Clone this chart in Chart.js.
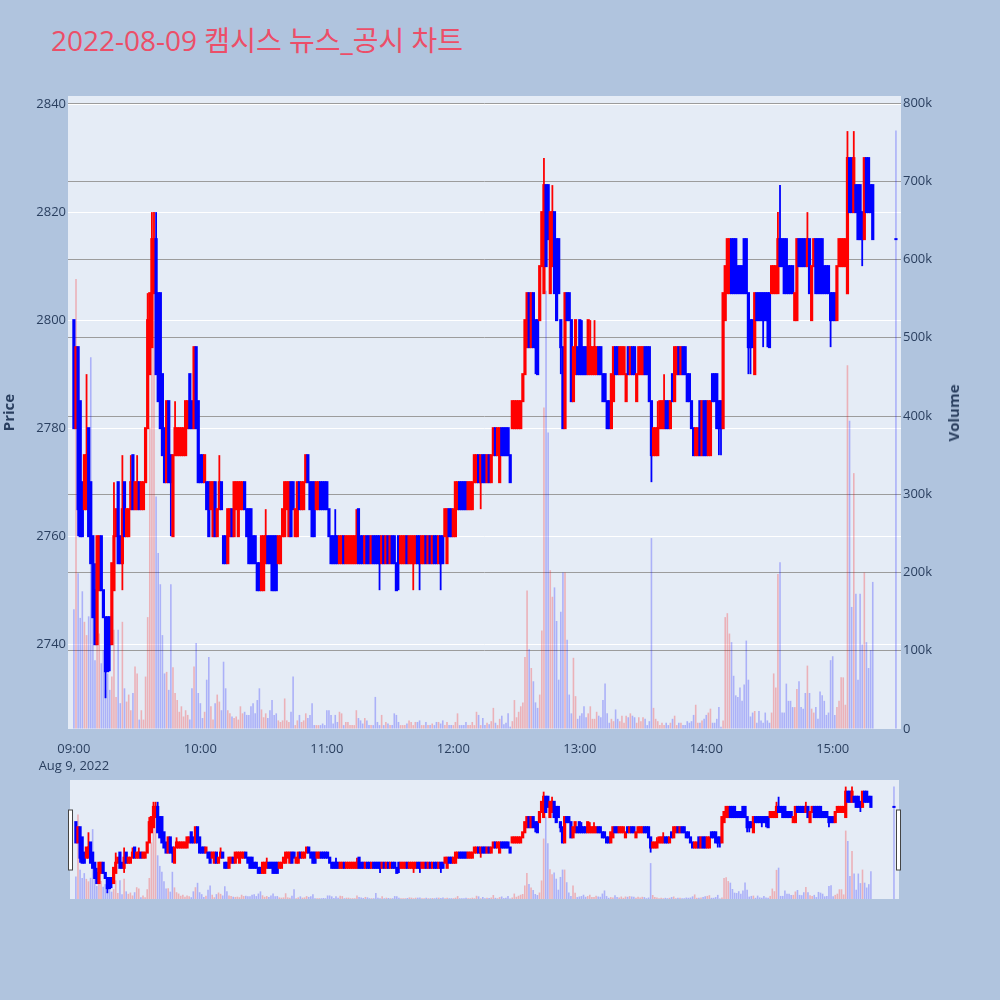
<!DOCTYPE html>
<html><head><meta charset="utf-8">
<script src="https://cdn.jsdelivr.net/npm/chart.js@4.4.1/dist/chart.umd.min.js"></script>
<style>
html,body{margin:0;padding:0;background:#B0C4DE;width:1000px;height:1000px;overflow:hidden;}
#title{position:absolute;left:51px;top:25px;line-height:30px;font-family:'Open Sans','Noto Sans CJK KR',sans-serif;font-size:28px;color:#EC4E68;white-space:nowrap;}
#main{position:absolute;left:0;top:0;}
#slider{position:absolute;left:0;top:770px;}
#vtitle{position:absolute;left:953px;top:413px;transform:translate(-50%,-50%) rotate(-90deg);font-family:'Open Sans',sans-serif;font-weight:bold;font-size:15px;color:#2a3f5f;white-space:nowrap;}
</style></head>
<body>
<div id="title">2022-08-09 캠시스 뉴스_공시 차트</div>
<canvas id="main" width="1000" height="775"></canvas>
<canvas id="slider" width="1000" height="140"></canvas>
<div id="vtitle">Volume</div>
<script>
// ---- data (minute candles from 09:00; the last one is the 15:30 closing auction) ----
const openP = [
2800,2780,2795,2785,2770,2765,2765,2780,2770,2760,
2750,2740,2750,2760,2750,2745,2745,2745,2740,2750,
2760,2770,2760,2755,2770,2760,2760,2765,2775,2765,
2765,2770,2765,2765,2770,2780,2790,2795,2805,2815,
2805,2805,2790,2780,2770,2785,2775,2760,2775,2775,
2775,2775,2775,2775,2780,2790,2785,2780,2795,2785,
2775,2775,2770,2770,2770,2765,2760,2770,2760,2765,
2770,2760,2760,2755,2760,2765,2760,2765,2760,2765,
2765,2770,2765,2765,2765,2760,2760,2755,2755,2750,
2750,2755,2760,2760,2760,2760,2760,2755,2755,2760,
2760,2765,2760,2770,2770,2760,2760,2770,2765,2765,
2770,2775,2770,2770,2770,2765,2765,2770,2770,2770,
2770,2765,2760,2760,2760,2760,2755,2755,2760,2755,
2755,2755,2755,2755,2755,2765,2760,2760,2755,2760,
2760,2755,2760,2760,2760,2760,2755,2760,2755,2760,
2755,2760,2760,2755,2760,2755,2755,2755,2760,2755,
2755,2755,2755,2760,2760,2755,2755,2760,2755,2760,
2755,2760,2760,2755,2760,2760,2760,2755,2765,2765,
2760,2760,2765,2770,2770,2770,2770,2765,2765,2765,
2770,2770,2775,2770,2775,2775,2770,2775,2770,2775,
2780,2775,2770,2780,2780,2780,2780,2775,2780,2780,
2780,2780,2780,2785,2790,2795,2805,2795,2805,2800,
2800,2800,2810,2805,2825,2825,2805,2810,2820,2815,
2815,2800,2795,2780,2805,2805,2800,2785,2790,2795,
2800,2795,2795,2795,2790,2790,2790,2790,2790,2795,
2795,2790,2790,2785,2785,2780,2785,2795,2795,2790,
2790,2790,2785,2795,2790,2795,2795,2785,2790,2790,
2790,2795,2795,2795,2785,2775,2775,2775,2780,2780,
2780,2785,2785,2780,2790,2785,2790,2795,2790,2795,
2795,2790,2790,2785,2780,2775,2775,2785,2775,2785,
2785,2775,2775,2790,2790,2790,2785,2785,2780,2800,
2805,2805,2815,2815,2815,2810,2810,2810,2815,2815,
2805,2800,2800,2790,2805,2805,2805,2805,2805,2805,
2805,2805,2805,2805,2805,2815,2815,2815,2815,2810,
2810,2810,2800,2800,2815,2815,2815,2815,2810,2815,
2800,2810,2815,2815,2815,2815,2810,2810,2810,2805,
2805,2805,2800,2810,2810,2810,2810,2805,2830,2830,
2820,2825,2825,2825,2820,2815,2830,2830,2825,2825,
2815];
const highP = [
2800,2795,2795,2785,2770,2775,2790,2780,2770,2760,
2755,2760,2760,2760,2750,2745,2745,2745,2755,2770,
2765,2770,2760,2775,2770,2765,2765,2775,2775,2770,
2775,2770,2770,2770,2780,2805,2805,2820,2820,2820,
2805,2805,2790,2780,2785,2785,2775,2775,2785,2780,
2780,2780,2780,2785,2785,2790,2785,2795,2795,2785,
2775,2775,2775,2770,2770,2770,2770,2770,2765,2775,
2770,2760,2760,2765,2765,2765,2770,2770,2770,2770,
2770,2770,2765,2765,2765,2760,2760,2755,2755,2760,
2760,2765,2760,2760,2760,2760,2760,2760,2760,2765,
2770,2770,2770,2770,2770,2765,2770,2770,2770,2770,
2775,2775,2770,2770,2770,2770,2770,2770,2770,2770,
2770,2765,2760,2760,2765,2760,2760,2760,2760,2760,
2760,2760,2760,2760,2765,2765,2760,2760,2760,2760,
2760,2760,2760,2760,2760,2760,2760,2760,2760,2760,
2760,2760,2760,2755,2760,2760,2760,2760,2760,2760,
2760,2760,2760,2760,2760,2760,2760,2760,2760,2760,
2760,2760,2760,2760,2760,2760,2765,2765,2765,2765,
2765,2770,2770,2770,2770,2770,2770,2770,2770,2770,
2775,2775,2775,2775,2775,2775,2775,2775,2775,2780,
2780,2780,2780,2780,2780,2780,2780,2775,2785,2785,
2785,2785,2785,2790,2800,2805,2805,2805,2805,2800,
2800,2810,2820,2830,2825,2825,2820,2825,2820,2815,
2815,2800,2795,2805,2805,2805,2800,2795,2800,2795,
2800,2800,2795,2795,2800,2800,2795,2800,2795,2795,
2795,2790,2790,2785,2785,2790,2795,2795,2795,2795,
2795,2795,2790,2795,2795,2795,2795,2790,2795,2795,
2795,2795,2795,2795,2785,2780,2780,2785,2785,2785,
2790,2785,2785,2785,2790,2795,2795,2795,2795,2795,
2795,2790,2790,2785,2780,2780,2780,2785,2785,2785,
2785,2785,2785,2790,2790,2790,2785,2785,2805,2810,
2815,2815,2815,2815,2815,2810,2810,2810,2815,2815,
2805,2800,2800,2805,2805,2805,2805,2805,2805,2805,
2805,2810,2810,2810,2820,2825,2815,2815,2815,2810,
2810,2810,2805,2815,2815,2815,2815,2815,2820,2815,
2810,2815,2815,2815,2815,2815,2810,2810,2810,2805,
2805,2805,2810,2815,2815,2815,2815,2835,2830,2830,
2835,2825,2825,2825,2820,2830,2830,2830,2825,2825,
2815];
const lowP = [
2780,2780,2760,2760,2760,2765,2765,2760,2755,2745,
2740,2740,2750,2750,2745,2730,2735,2735,2740,2750,
2760,2755,2755,2750,2760,2760,2760,2765,2765,2765,
2765,2765,2765,2765,2770,2780,2790,2795,2805,2790,
2785,2780,2775,2770,2770,2770,2760,2760,2775,2775,
2775,2775,2775,2775,2780,2780,2780,2780,2780,2770,
2770,2770,2770,2765,2760,2765,2760,2760,2760,2765,
2765,2755,2755,2755,2760,2760,2760,2765,2760,2765,
2765,2765,2760,2755,2755,2755,2755,2750,2750,2750,
2750,2755,2755,2755,2750,2750,2750,2755,2755,2760,
2760,2765,2760,2760,2765,2760,2760,2765,2765,2765,
2770,2770,2765,2760,2760,2765,2765,2765,2765,2765,
2765,2760,2755,2755,2755,2755,2755,2755,2755,2755,
2755,2755,2755,2755,2755,2755,2755,2755,2755,2755,
2755,2755,2755,2755,2755,2750,2755,2755,2755,2755,
2755,2755,2755,2750,2750,2755,2755,2755,2755,2755,
2755,2750,2755,2755,2750,2755,2755,2755,2755,2755,
2755,2755,2755,2755,2750,2755,2760,2755,2760,2760,
2760,2760,2765,2765,2765,2765,2765,2765,2765,2765,
2770,2770,2770,2765,2770,2770,2770,2770,2770,2775,
2775,2775,2770,2775,2775,2775,2775,2770,2780,2780,
2780,2780,2780,2785,2790,2795,2795,2795,2795,2790,
2790,2800,2810,2805,2810,2815,2805,2810,2805,2800,
2805,2790,2780,2780,2800,2800,2785,2785,2790,2790,
2790,2790,2790,2790,2790,2790,2790,2790,2790,2790,
2790,2785,2785,2780,2780,2780,2785,2790,2790,2790,
2790,2790,2785,2790,2790,2790,2790,2785,2790,2790,
2790,2790,2790,2785,2770,2775,2775,2775,2780,2780,
2780,2780,2780,2780,2785,2785,2790,2790,2790,2790,
2790,2785,2785,2780,2775,2775,2775,2775,2775,2775,
2775,2775,2775,2785,2785,2780,2775,2775,2780,2800,
2805,2805,2805,2805,2805,2805,2805,2805,2805,2805,
2790,2790,2795,2790,2800,2800,2800,2795,2800,2795,
2795,2805,2805,2805,2805,2810,2810,2805,2805,2805,
2805,2805,2800,2800,2810,2810,2810,2810,2810,2805,
2800,2810,2805,2805,2805,2805,2805,2805,2805,2795,
2800,2800,2800,2810,2810,2810,2810,2805,2820,2820,
2820,2820,2815,2815,2810,2815,2820,2820,2820,2815,
2815];
const closeP = [
2780,2795,2765,2760,2760,2775,2775,2760,2755,2745,
2740,2760,2760,2750,2745,2735,2735,2740,2755,2760,
2765,2755,2755,2765,2760,2765,2765,2770,2765,2770,
2770,2765,2770,2770,2780,2800,2805,2815,2815,2790,
2785,2780,2775,2770,2785,2770,2770,2775,2780,2780,
2780,2780,2780,2785,2785,2780,2780,2795,2780,2770,
2770,2770,2775,2765,2760,2770,2770,2760,2765,2770,
2765,2755,2755,2765,2765,2760,2770,2770,2770,2770,
2770,2765,2760,2755,2755,2755,2755,2750,2750,2760,
2760,2760,2755,2755,2750,2750,2750,2760,2760,2765,
2770,2770,2770,2760,2765,2765,2770,2765,2770,2770,
2775,2770,2765,2760,2760,2770,2770,2765,2765,2765,
2765,2760,2755,2755,2755,2755,2760,2760,2755,2760,
2760,2760,2760,2760,2760,2755,2755,2755,2760,2755,
2755,2760,2755,2755,2755,2755,2760,2755,2760,2755,
2760,2755,2755,2750,2755,2760,2760,2760,2755,2760,
2760,2760,2760,2755,2755,2760,2760,2755,2760,2755,
2760,2755,2755,2760,2755,2755,2765,2765,2760,2760,
2765,2770,2770,2765,2765,2765,2765,2770,2770,2770,
2775,2775,2770,2775,2770,2770,2775,2770,2775,2780,
2775,2780,2780,2775,2775,2775,2775,2770,2785,2785,
2785,2785,2785,2790,2800,2805,2795,2805,2795,2795,
2790,2810,2820,2825,2810,2815,2820,2820,2805,2800,
2805,2795,2780,2805,2800,2800,2785,2795,2800,2790,
2790,2790,2790,2790,2800,2795,2795,2795,2795,2790,
2790,2785,2785,2780,2780,2790,2795,2790,2790,2795,
2795,2795,2790,2790,2795,2790,2790,2790,2795,2795,
2795,2790,2790,2785,2775,2780,2780,2780,2785,2785,
2785,2780,2780,2785,2785,2795,2795,2790,2795,2790,
2790,2785,2785,2780,2775,2780,2780,2775,2785,2775,
2775,2785,2785,2785,2785,2780,2780,2780,2805,2810,
2815,2815,2805,2805,2805,2805,2805,2805,2805,2805,
2795,2795,2795,2805,2800,2800,2800,2800,2800,2800,
2795,2810,2810,2810,2815,2810,2810,2805,2805,2805,
2805,2805,2805,2815,2810,2810,2810,2810,2815,2805,
2810,2815,2805,2805,2805,2805,2805,2805,2805,2800,
2800,2800,2810,2815,2815,2815,2815,2830,2820,2820,
2830,2820,2815,2815,2815,2830,2820,2820,2820,2815,
2815];
// volume in thousands of shares
const volumeK = [
153,575,199,142,176,137,120,144,475,144,
88,150,122,84,101,50,71,50,67,127,
41,127,33,137,52,35,44,24,46,80,
71,12,24,12,67,143,385,575,660,297,
225,185,120,71,73,50,185,79,46,37,
22,29,16,24,18,12,52,80,110,46,
33,14,22,63,92,29,12,33,44,35,
24,86,52,24,20,16,14,16,12,29,
20,22,18,18,29,33,20,37,52,25,
15,20,14,24,37,18,20,11,9,11,
39,11,9,22,67,5,11,18,9,11,
20,14,18,33,5,5,5,5,7,5,
24,24,18,7,18,9,22,20,5,9,
9,5,5,5,24,14,11,7,14,11,
5,5,5,41,9,5,18,5,9,7,
5,5,20,18,9,5,5,5,7,11,
9,5,9,9,11,5,5,9,5,5,
7,5,9,9,7,11,5,9,5,5,
5,9,20,5,5,5,9,5,5,9,
5,22,18,5,14,5,8,6,10,27,
8,5,13,17,6,8,20,3,10,37,
15,22,29,34,92,177,102,78,61,34,
27,44,126,411,560,379,203,169,181,138,
63,150,200,200,114,44,20,91,42,13,
17,20,29,15,20,29,13,13,22,17,
15,37,58,20,8,13,10,25,13,10,
17,8,17,15,20,17,15,8,15,10,
15,13,5,10,244,27,13,10,5,8,
5,8,5,8,13,17,5,8,8,5,
5,10,8,10,18,31,8,8,11,13,
18,21,26,8,8,13,28,3,11,143,
148,122,111,68,43,41,53,36,57,113,
63,16,21,23,8,23,11,8,21,11,
8,21,71,53,198,213,21,21,58,36,
36,28,28,51,61,28,26,46,81,46,
26,21,28,13,48,43,36,18,21,88,
93,18,28,36,66,66,31,465,394,156,
327,173,63,173,108,200,111,78,101,188,
765];
// time axis: minutes after 09:00; continuous session until 15:19, then the 15:30 auction
const sessionMinutes = 380;
const auctionMinute = 390;
const xTickValues = [0, 60, 120, 180, 240, 300, 360];
const xTickLabels = [['09:00', 'Aug 9, 2022'], '10:00', '11:00', '12:00', '13:00', '14:00', '15:00'];
const priceTicks = [2740, 2760, 2780, 2800, 2820, 2840];
const volumeTicks = [0, 100, 200, 300, 400, 500, 600, 700, 800];
const volumeTickLabels = ['0', '100k', '200k', '300k', '400k', '500k', '600k', '700k', '800k'];

// ---- build ----
const xs = [];
for (let i = 0; i < sessionMinutes; i++) xs.push(i);
xs.push(auctionMinute);

const UP = '#FF0000', DOWN = '#0000FF';
const UPV = 'rgba(255,0,0,0.25)', DOWNV = 'rgba(0,0,255,0.25)';
const isUp = openP.map((o, i) => closeP[i] > o);
const candleColors = isUp.map(u => u ? UP : DOWN);
const volColors = isUp.map(u => u ? UPV : DOWNV);

const wickData = xs.map((x, i) => ({x, y: [lowP[i], highP[i]]}));
const bodyData = xs.map((x, i) => ({x, y: [openP[i], closeP[i]]}));
const volData = xs.map((x, i) => ({x, y: volumeK[i]}));

const X_MIN = -2.8, X_MAX = 392.4;
const P_MIN = 2724.3, P_MAX = 2841.5;
const V_MIN = 0, V_MAX = 809;

const bgPlugin = {
  id: 'plotBg',
  beforeDraw(chart) {
    const {ctx, chartArea: a} = chart;
    ctx.save();
    ctx.fillStyle = '#E5ECF6';
    ctx.fillRect(a.left, a.top, a.right - a.left, a.bottom - a.top);
    ctx.restore();
  }
};

function makeDatasets(wickW, bodyW, volW) {
  return [
    {type: 'bar', label: 'volume', data: volData, yAxisID: 'y2', backgroundColor: volColors,
     barThickness: volW, grouped: false, inflateAmount: 0, order: 3},
    {type: 'bar', label: 'wick', data: wickData, yAxisID: 'y', backgroundColor: candleColors,
     barThickness: wickW, grouped: false, inflateAmount: 0, order: 2},
    {type: 'bar', label: 'body', data: bodyData, yAxisID: 'y', backgroundColor: candleColors,
     barThickness: bodyW, grouped: false, inflateAmount: 1, order: 1}
  ];
}

const tickFont = {family: "'Open Sans', sans-serif", size: 13, lineHeight: 1.3};
const tickColor = '#2a3f5f';

new Chart(document.getElementById('main'), {
  data: {datasets: makeDatasets(1.8, 1.2, 1.6)},
  options: {
    responsive: false, animation: false,
    layout: {padding: {top: 96, left: 0, right: 0, bottom: 0}},
    plugins: {legend: {display: false}, tooltip: {enabled: false}},
    scales: {
      x: {
        type: 'linear', min: X_MIN, max: X_MAX, offset: false,
        grid: {display: false}, border: {display: false},
        afterBuildTicks: s => { s.ticks = xTickValues.map(v => ({value: v})); },
        afterFit: s => { s.height = 46; },
        ticks: {autoSkip: false, maxRotation: 0, padding: 3.5, font: tickFont, color: tickColor,
          callback: (v, i) => xTickLabels[i]}
      },
      y: {
        type: 'linear', position: 'left', min: P_MIN, max: P_MAX,
        grid: {color: '#FFFFFF', lineWidth: 1, drawTicks: false}, border: {display: false},
        afterBuildTicks: s => { s.ticks = priceTicks.map(v => ({value: v})); },
        afterFit: s => { s.width = 68; },
        ticks: {padding: 2, font: tickFont, color: tickColor, callback: v => String(v)},
        title: {display: true, text: 'Price', color: tickColor, padding: {top: 1, bottom: 0},
          font: {family: "'Open Sans', sans-serif", size: 15, weight: 'bold'}}
      },
      y2: {
        type: 'linear', position: 'right', min: V_MIN, max: V_MAX,
        grid: {color: c => c.tick && c.tick.value === 0 ? 'rgba(0,0,0,0)' : '#9c9c9c', lineWidth: 1, drawTicks: false},
        border: {display: false},
        afterBuildTicks: s => { s.ticks = volumeTicks.map(v => ({value: v})); },
        afterFit: s => { s.width = 99; },
        ticks: {padding: 2, font: tickFont, color: tickColor, callback: (v, i) => volumeTickLabels[i]}
      }
    }
  },
  plugins: [bgPlugin]
});

const handlePlugin = {
  id: 'handles',
  afterDraw(chart) {
    const {ctx, chartArea: a} = chart;
    ctx.save();
    ctx.fillStyle = '#FFFFFF';
    ctx.strokeStyle = '#444444';
    ctx.lineWidth = 1;
    const hy = a.top + 30, hh = 60;
    [[a.left - 1.5, 4], [a.right - 2.5, 4]].forEach(([hx, hw]) => {
      ctx.fillRect(hx, hy, hw, hh);
      ctx.strokeRect(hx, hy, hw, hh);
    });
    ctx.restore();
  }
};

new Chart(document.getElementById('slider'), {
  data: {datasets: makeDatasets(1.8, 1.2, 1.6)},
  options: {
    responsive: false, animation: false,
    layout: {padding: {top: 10, left: 70, right: 101, bottom: 11}},
    plugins: {legend: {display: false}, tooltip: {enabled: false}},
    scales: {
      x: {type: 'linear', display: false, min: X_MIN, max: X_MAX, offset: false},
      y: {type: 'linear', display: false, min: P_MIN, max: P_MAX},
      y2: {type: 'linear', display: false, position: 'right', min: V_MIN, max: V_MAX}
    }
  },
  plugins: [bgPlugin, handlePlugin]
});
</script>
</body></html>
